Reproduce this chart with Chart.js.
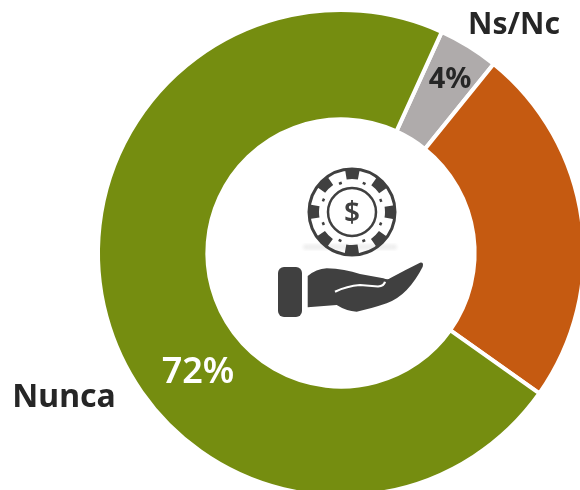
<!DOCTYPE html>
<html lang="es">
<head>
<meta charset="utf-8">
<title>Nunca</title>
<script src="https://cdn.jsdelivr.net/npm/chart.js@4/dist/chart.umd.js"></script>
<style>
  html, body { margin: 0; padding: 0; background: #fff; }
  #wrap { position: relative; width: 580px; height: 490px; overflow: hidden; }
  #chart { position: absolute; left: 0; top: 0; }
  #icon { position: absolute; left: 0; top: 0; }
</style>
</head>
<body>
<div id="wrap">
  <canvas id="chart" width="682" height="506"></canvas>
  <svg id="icon" width="580" height="490" viewBox="0 0 580 490">
    <defs><filter id="blur"><feGaussianBlur stdDeviation="1.6"/></filter></defs>
    <!-- marca de agua -->
    <rect x="303" y="244" width="94" height="6" rx="3" fill="#f0f0f0" filter="url(#blur)"/>
    <!-- ficha -->
    <circle cx="352" cy="212" r="43" fill="none" stroke="#404040" stroke-width="3"/>
    <circle cx="352" cy="212" r="38" fill="none" stroke="#404040" stroke-width="10" stroke-dasharray="13 16.85" stroke-dashoffset="6.5"/>
    <circle cx="352" cy="212" r="31" fill="none" stroke="#404040" stroke-width="2.5" stroke-dasharray="3 21.35" stroke-dashoffset="-10.7"/>
    <circle cx="352" cy="212" r="24" fill="none" stroke="#404040" stroke-width="2.5"/>
    <text x="352" y="222" text-anchor="middle" font-family="'Noto Sans'" font-weight="600" font-size="28" fill="#404040">$</text>
    <!-- mano -->
    <rect x="278" y="267" width="24" height="50" rx="6" fill="#404040"/>
    <path d="M307.7 276 Q316 269 326.7 268.3 Q345 269 360 274 L383.3 278.3 Q388 280 390 278.3 Q405 270 420 262.7 Q424 262 422.7 266.7 Q416 280 406.7 290 Q398 299 386.7 303.3 Q370 309 356.7 311.7 Q346 311 336.7 305 L307.7 307.3 Z" fill="#404040"/>
    <path d="M335 291.7 Q347 286 360 285 L378 286.5 Q384 286 385 281.7" fill="none" stroke="#fff" stroke-width="2.2"/>
  </svg>
</div>
<script>
// Valores
const categorias = ['Ns/Nc', '', 'Nunca'];
const valores = [4, 24, 72];
const colores = ['#AFABAB', '#C55A11', '#758D10'];
const etiquetasValor = ['4%', '', '72%'];

// Textos sobre el canvas
const rotulos = {
  id: 'rotulos',
  afterDatasetsDraw(chart) {
    const ctx = chart.ctx;
    ctx.save();
    ctx.textAlign = 'center';
    ctx.textBaseline = 'middle';

    ctx.fillStyle = '#262626';
    ctx.font = "700 30px 'Noto Sans'";
    ctx.fillText(categorias[0], 514, 25);
    ctx.font = "700 32px 'Noto Sans'";
    ctx.fillText(categorias[2], 64, 398);

    ctx.font = "700 29px 'Noto Sans'";
    ctx.fillText(etiquetasValor[0], 450, 80);
    ctx.fillStyle = '#FFFFFF';
    ctx.font = "600 36px 'Noto Sans'";
    ctx.fillText(etiquetasValor[2], 198, 373);
    ctx.restore();
  }
};

new Chart(document.getElementById('chart'), {
  type: 'doughnut',
  data: {
    labels: categorias,
    datasets: [{
      data: valores,
      backgroundColor: colores,
      borderColor: '#FFFFFF',
      borderWidth: 4
    }]
  },
  options: {
    responsive: false,
    animation: false,
    rotation: 24.5,
    radius: 243,
    cutout: '55%',
    plugins: {
      legend: { display: false },
      tooltip: { enabled: false }
    }
  },
  plugins: [rotulos]
});
</script>
</body>
</html>
